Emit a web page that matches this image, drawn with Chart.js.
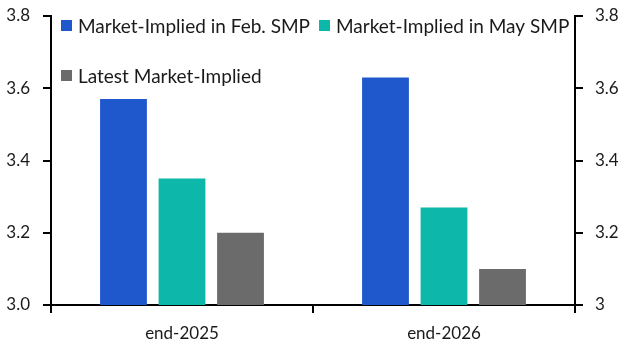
<!DOCTYPE html>
<html><head><meta charset="utf-8">
<script src="https://cdn.jsdelivr.net/npm/chart.js@4/dist/chart.umd.min.js"></script>
<style>html,body{margin:0;padding:0;background:#fff}#wrap{width:632px;height:357px;position:relative}</style>
</head><body><div id="wrap"><canvas id="c" width="632" height="357"></canvas></div>
<script>
const categories = ['end-2025', 'end-2026'];
const seriesNames = ['Market-Implied in Feb. SMP', 'Market-Implied in May SMP', 'Latest Market-Implied'];
const febSMP = [3.57, 3.63];
const maySMP = [3.35, 3.27];
const latest = [3.20, 3.10];
const leftTickLabels = ['3.0', '3.2', '3.4', '3.6', '3.8'];
const rightTickLabels = ['3', '3.2', '3.4', '3.6', '3.8'];
const colors = ['#1f57cc', '#0db8aa', '#6b6b6b'];
const FONT = 'Lato, "Open Sans", sans-serif';

const legendPlugin = {
  id: 'insideLegend',
  afterDraw(chart) {
    const ctx = chart.ctx;
    const items = [
      {x: 61, y: 25.5}, {x: 319, y: 25.5}, {x: 61, y: 75.5}
    ];
    ctx.save();
    ctx.font = '19px ' + FONT;
    ctx.textBaseline = 'middle';
    chart.data.datasets.forEach((ds, i) => {
      const p = items[i];
      ctx.fillStyle = ds.backgroundColor;
      ctx.fillRect(p.x, p.y - 5.5, 11, 11);
      ctx.fillStyle = '#1a1a1a';
      ctx.fillText(ds.label, p.x + 17, p.y + 1);
    });
    ctx.restore();
  }
};

function zeroPad(s) { s.paddingTop = 0; s.paddingBottom = 0; s.paddingLeft = 0; s.paddingRight = 0; }

const tickCommon = {color: '#1a1a1a', font: {family: FONT, size: 17}};
new Chart(document.getElementById('c'), {
  type: 'bar',
  data: {
    labels: categories,
    datasets: [
      {label: seriesNames[0], data: febSMP, backgroundColor: colors[0], yAxisID: 'y'},
      {label: seriesNames[1], data: maySMP, backgroundColor: colors[1], yAxisID: 'y'},
      {label: seriesNames[2], data: latest, backgroundColor: colors[2], yAxisID: 'y'}
    ]
  },
  options: {
    responsive: false,
    animation: false,
    devicePixelRatio: 1,
    layout: {padding: {top: 16, left: 0, right: 0, bottom: 0}},
    plugins: {legend: {display: false}, tooltip: {enabled: false}},
    datasets: {bar: {categoryPercentage: 0.67, barPercentage: 0.8}},
    scales: {
      x: {
        grid: {offset: true, drawOnChartArea: false, drawTicks: true, tickLength: 8, color: '#000', lineWidth: 2},
        border: {color: '#000', width: 2},
        ticks: Object.assign({padding: 10}, tickCommon),
        afterFit(s) { s.height = 52; zeroPad(s); }
      },
      y: {
        position: 'left', min: 3.0, max: 3.8,
        grid: {drawOnChartArea: false, drawTicks: true, tickLength: 8, color: '#000', lineWidth: 2},
        border: {color: '#000', width: 2},
        ticks: Object.assign({stepSize: 0.2, padding: 13, callback: (v, i) => leftTickLabels[i]}, tickCommon),
        afterFit(s) { s.width = 51; zeroPad(s); }
      },
      y2: {
        position: 'right', min: 3.0, max: 3.8,
        grid: {drawOnChartArea: false, drawTicks: true, tickLength: 8, color: '#000', lineWidth: 2},
        border: {color: '#000', width: 2},
        ticks: Object.assign({stepSize: 0.2, padding: 12, callback: (v, i) => rightTickLabels[i]}, tickCommon),
        afterFit(s) { s.width = 57; zeroPad(s); }
      }
    }
  },
  plugins: [legendPlugin]
});
</script></body></html>
